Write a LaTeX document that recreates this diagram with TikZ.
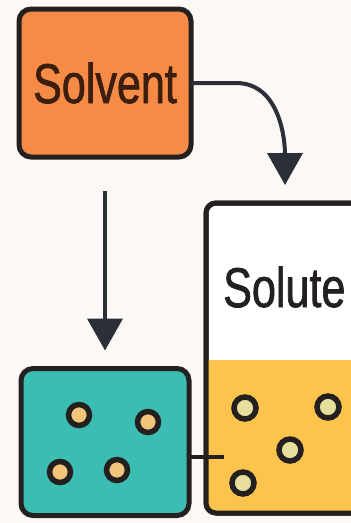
\documentclass[tikz,border=0pt]{standalone}
\usepackage{fontspec}
\newfontfamily\labelfont{Liberation Sans}[FakeStretch=0.77, FakeBold=1.2]
\usetikzlibrary{arrows.meta}

\definecolor{paper}{HTML}{FBF8F5}
\definecolor{ink}{HTML}{23201F}
\definecolor{arrowgray}{HTML}{2B3038}
\definecolor{solventorange}{HTML}{F68B47}
\definecolor{mixteal}{HTML}{3CBDB4}
\definecolor{liquid}{HTML}{FCC44D}
\definecolor{tealdot}{HTML}{F2C57A}
\definecolor{liquiddot}{HTML}{E6DE9C}
\definecolor{browntext}{HTML}{3B1E0E}

\begin{document}
\begin{tikzpicture}[x=1pt, y=-1pt,
    box/.style={draw=ink, line width=5pt, rounded corners=12pt, outer sep=0pt},
    flow/.style={draw=arrowgray, line width=4pt, -{Triangle[width=35pt,length=32pt]}},
    dot/.style={draw=ink, line width=5.5pt}]

\fill[paper] (0,0) rectangle (351,523);
\useasboundingbox (0,0) rectangle (351,523);
\clip (0,0) rectangle (351,523);

                 \node [box, fill=solventorange, minimum width=172pt, minimum height=148pt] at (105,83) (solvent) {\labelfont\fontsize{56}{56}\selectfont\color{browntext}Solvent};
                 \node [box, fill=mixteal, minimum width=168pt, minimum height=147pt] at (105,442) (mix) {};
                 \node [draw=ink, line width=5pt, fill=white, outer sep=0pt, rounded corners=10pt, anchor=north west, minimum width=200pt, minimum height=310pt] at (206,203) (beaker) {};
%
\begin{scope}
  \clip[rounded corners=10pt] (beaker.north west) rectangle (beaker.south east);
  \fill[liquid] (beaker.west |- 0,360) rectangle (beaker.south east);
\end{scope}
\draw[ink, line width=5pt, rounded corners=10pt] (beaker.north west) rectangle (beaker.south east);
                 \node [anchor=west, inner sep=0pt] at (223,287) (solute) {\labelfont\fontsize{56}{56}\selectfont\color{ink}Solute};
%
\coordinate (drop) at (285,185);
\coordinate (link) at (0,457);
\draw[flow] (solvent.east) -- ++(45,0) to[out=0, in=90] (drop);
\draw[flow, shorten <=34pt, shorten >=18pt] (solvent.south) -- (mix.north);
\draw[ink, line width=4pt] (mix.east |- link) -- ++(35,0);
%
\foreach \x/\y in {79/415, 148/422, 60/472, 117/470}
    \draw[dot, fill=tealdot] (\x,\y) circle (10.5pt);
\foreach \x/\y in {245/408, 328/407, 290/450, 243/483}
    \draw[dot, fill=liquiddot] (\x,\y) circle (11pt);
%
\end{tikzpicture}
\end{document}
